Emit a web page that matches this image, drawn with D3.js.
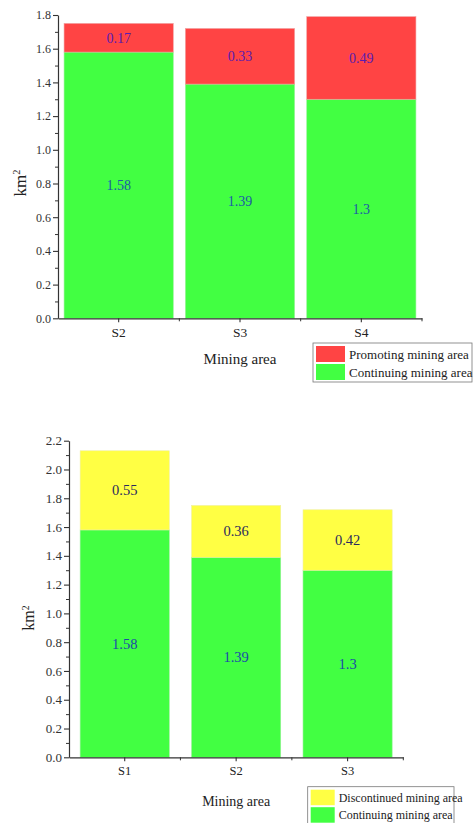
<!DOCTYPE html>
<html><head><meta charset="utf-8">
<script src="https://cdn.jsdelivr.net/npm/d3@7/dist/d3.min.js"></script>
<style>
html,body{margin:0;padding:0;background:#fff;}
svg{display:block;}
svg text{font-family:"Liberation Serif","Times New Roman",serif !important;}
</style></head>
<body>
<svg id="c" width="473" height="823"></svg>
<script>
// ---- data ----
const topCategories = ["S2", "S3", "S4"];
const topContinuing = [1.58, 1.39, 1.3];
const topPromoting = [0.17, 0.33, 0.49];
const topTicks = [0, 0.2, 0.4, 0.6, 0.8, 1.0, 1.2, 1.4, 1.6, 1.8];
const topMinorTicks = [0.1, 0.3, 0.5, 0.7, 0.9, 1.1, 1.3, 1.5, 1.7];

const bottomCategories = ["S1", "S2", "S3"];
const bottomContinuing = [1.58, 1.39, 1.3];
const bottomDiscontinued = [0.55, 0.36, 0.42];
const bottomTicks = [0, 0.2, 0.4, 0.6, 0.8, 1.0, 1.2, 1.4, 1.6, 1.8, 2.0, 2.2];
const bottomMinorTicks = [0.1, 0.3, 0.5, 0.7, 0.9, 1.1, 1.3, 1.5, 1.7, 1.9, 2.1];

const GREEN = "#42ff42", RED = "#ff4444", YELLOW = "#ffff44";
const svg = d3.select("#c");

function drawChart(o) {
  const g = svg.append("g");
  const x = d3.scaleBand().domain(o.cats).range([o.x0, o.x1])
    .paddingInner(o.pIn).paddingOuter(o.pOut);
  const y = d3.scaleLinear().domain([0, o.ymax]).range([o.y0, o.y1]);

  const rows = o.cats.map((c, i) => ({c, base: o.base[i], top: o.top[i]}));
  g.selectAll(".b").data(rows).join("rect")
    .attr("x", d => x(d.c)).attr("width", x.bandwidth())
    .attr("y", d => y(d.base)).attr("height", d => y(0) - y(d.base))
    .attr("fill", GREEN).attr("stroke", "#9af09a").attr("stroke-width", 0.6);
  g.selectAll(".t").data(rows).join("rect")
    .attr("x", d => x(d.c)).attr("width", x.bandwidth())
    .attr("y", d => y(d.base + d.top)).attr("height", d => y(d.base) - y(d.base + d.top))
    .attr("fill", o.topColor).attr("stroke", o.topStroke).attr("stroke-width", 0.6);
  g.selectAll(".lb").data(rows).join("text")
    .attr("x", d => x(d.c) + x.bandwidth() / 2)
    .attr("y", d => (y(0) + y(d.base)) / 2)
    .attr("dy", "0.35em").attr("text-anchor", "middle")
    .attr("font-size", o.valFont).attr("fill", o.baseLabelColor)
    .text(d => String(d.base));
  g.selectAll(".lt").data(rows).join("text")
    .attr("x", d => x(d.c) + x.bandwidth() / 2)
    .attr("y", d => (y(d.base) + y(d.base + d.top)) / 2)
    .attr("dy", "0.35em").attr("text-anchor", "middle")
    .attr("font-size", o.valFont).attr("fill", o.topLabelColor)
    .text(d => String(d.top));

  const ya = g.append("g").attr("transform", `translate(${o.x0},0)`)
    .call(d3.axisLeft(y).tickValues(o.ticks).tickFormat(d3.format(".1f")).tickSize(5).tickSizeOuter(0).tickPadding(2));
  ya.select(".domain").attr("stroke", "#333").attr("stroke-width", 1.2);
  ya.selectAll(".tick line").attr("stroke", "#333").attr("stroke-width", 1.1);
  ya.selectAll(".tick text").attr("font-size", o.tickFont).attr("fill", "#333");
  const ym = g.append("g").attr("transform", `translate(${o.x0},0)`)
    .call(d3.axisLeft(y).tickValues(o.minor).tickFormat("").tickSize(3).tickSizeOuter(0));
  ym.select(".domain").remove();
  ym.selectAll(".tick line").attr("stroke", "#333");

  const xa = g.append("g").attr("transform", `translate(0,${o.y0})`)
    .call(d3.axisBottom(x).tickSize(4).tickSizeOuter(0).tickPadding(5));
  xa.select(".domain").attr("stroke", "#333").attr("stroke-width", 1.2);
  xa.selectAll(".tick line").attr("stroke", "#333").attr("stroke-width", 1.1);
  xa.selectAll(".tick text").attr("font-size", o.xTickFont).attr("fill", "#222");
  const bounds = o.cats.slice(1).map(c => x(c) - x.step() * x.paddingInner() / 2).concat([o.x1]);
  g.selectAll(".bt").data(bounds).join("line")
    .attr("x1", d => d).attr("x2", d => d)
    .attr("y1", o.y0).attr("y2", o.y0 + 3).attr("stroke", "#333");

  g.append("text").attr("x", (o.x0 + o.x1) / 2).attr("y", o.xTitleY)
    .attr("text-anchor", "middle").attr("font-size", o.titleFont).attr("fill", "#222")
    .text("Mining area");
  const yt = g.append("text")
    .attr("transform", `translate(${o.yTitleX},${o.yTitleY}) rotate(-90)`)
    .attr("text-anchor", "middle").attr("font-size", o.yTitleFont).attr("fill", "#222");
  yt.append("tspan").text("km");
  yt.append("tspan").attr("dy", "-0.55em").attr("font-size", o.yTitleFont * 0.6).text("2");

  const L = o.legend;
  g.append("rect").attr("x", L.x).attr("y", L.y).attr("width", L.w).attr("height", L.h)
    .attr("fill", "#fff").attr("stroke", "#777").attr("stroke-width", 0.8);
  L.items.forEach((it, i) => {
    g.append("rect").attr("x", L.x + 3).attr("y", L.y + 3 + i * L.row)
      .attr("width", L.sw).attr("height", L.row - 2).attr("fill", it.color);
    g.append("text").attr("x", L.x + L.sw + 7).attr("y", L.y + 3 + i * L.row + (L.row - 2) / 2)
      .attr("dy", "0.35em").attr("font-size", L.font).attr("fill", "#222").text(it.label);
  });
}

drawChart({
  cats: topCategories, base: topContinuing, top: topPromoting,
  ticks: topTicks, minor: topMinorTicks, ymax: 1.8,
  x0: 58, x1: 422, y0: 318.3, y1: 15, pIn: 0.1, pOut: 0.05,
  topColor: RED, topStroke: "#f0a0a0",
  baseLabelColor: "#1c5aa8", topLabelColor: "#5a1cb0",
  valFont: 14, tickFont: 12, xTickFont: 13.5, titleFont: 15, yTitleFont: 17,
  xTitleY: 364, yTitleX: 26, yTitleY: 183,
  legend: {x: 313, y: 343, w: 159, h: 39, sw: 29, row: 18, font: 13,
    items: [{color: RED, label: "Promoting mining area"}, {color: GREEN, label: "Continuing mining area"}]}
});

drawChart({
  cats: bottomCategories, base: bottomContinuing, top: bottomDiscontinued,
  ticks: bottomTicks, minor: bottomMinorTicks, ymax: 2.2,
  x0: 69, x1: 403.3, y0: 757.3, y1: 440.7, pIn: 0.2, pOut: 0.1,
  topColor: YELLOW, topStroke: "#f0f0a0",
  baseLabelColor: "#1c4aa8", topLabelColor: "#2a2a5e",
  valFont: 14.5, tickFont: 13, xTickFont: 12.5, titleFont: 14, yTitleFont: 16,
  xTitleY: 806, yTitleX: 34, yTitleY: 618,
  legend: {x: 307.7, y: 786.7, w: 146.3, h: 38, sw: 24, row: 17.5, font: 12,
    items: [{color: YELLOW, label: "Discontinued mining area"}, {color: GREEN, label: "Continuing mining area"}]}
});
</script>
</body></html>
